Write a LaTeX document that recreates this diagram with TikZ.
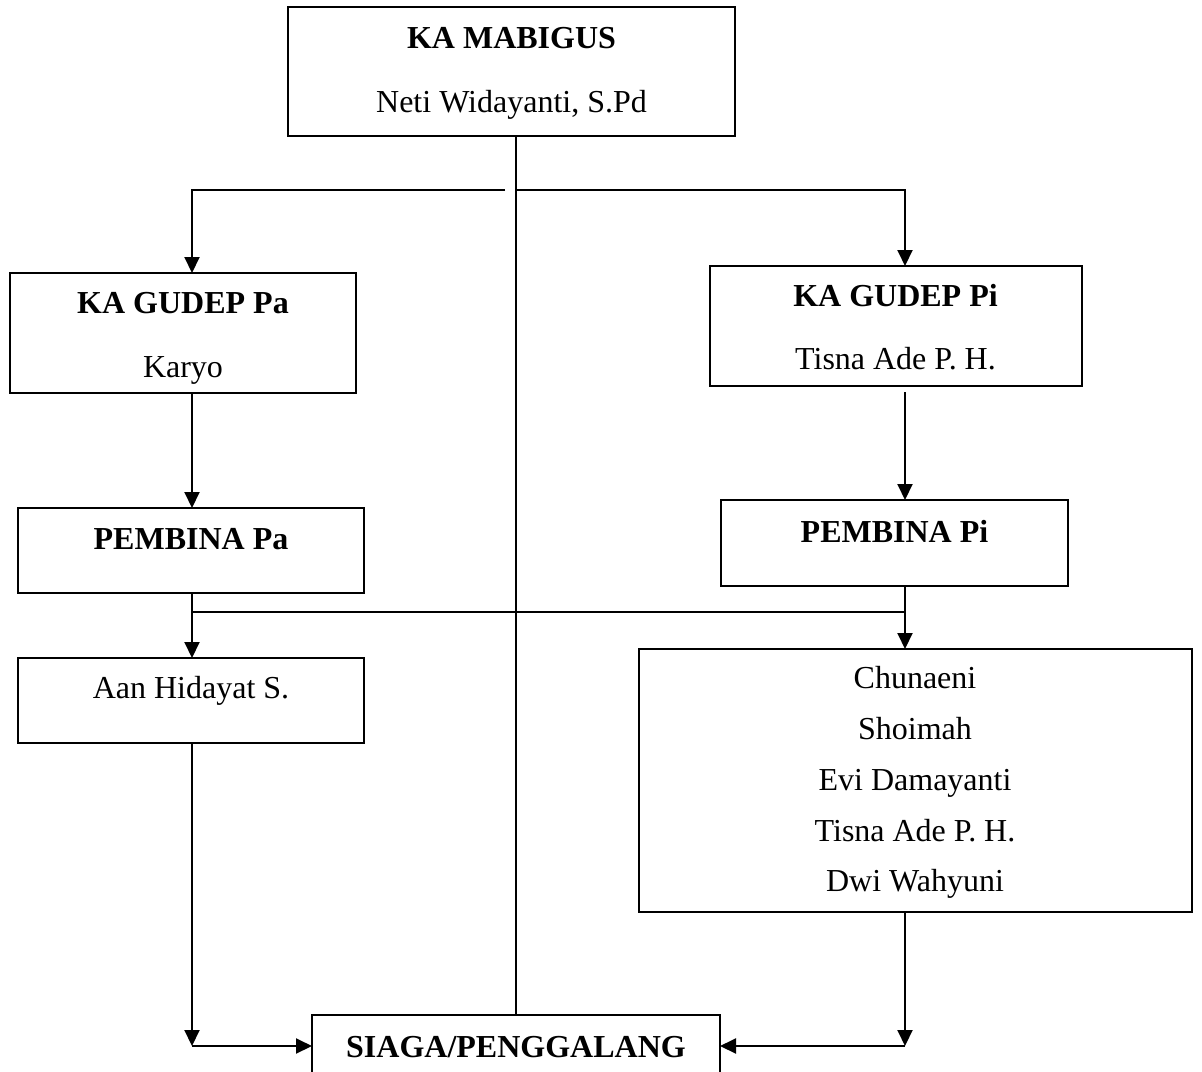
\documentclass[tikz,border=0pt]{standalone}
\usepackage{fontspec}
\setmainfont{Liberation Serif}
\usetikzlibrary{arrows.meta}
\begin{document}
\begin{tikzpicture}[x=1pt,y=-1pt,
  box/.style={draw, line width=2pt, inner sep=0pt, outer sep=0pt, anchor=north west},
  lbl/.style={inner sep=0pt, anchor=base, font=\fontsize{32}{38}\selectfont},
  blbl/.style={lbl, font=\fontsize{32}{38}\selectfont\bfseries},
  conn/.style={line width=2pt},
  arr/.style={conn, -{Triangle[length=16pt,width=15pt]}}]
\useasboundingbox (0,0) rectangle (1202,1071);
\clip (0,0) rectangle (1202,1071);
% boxes
\node[box, minimum width=447pt, minimum height=129pt] (mab) at (288,7) {};
\node[box, minimum width=346pt, minimum height=120pt] (gpa) at (10,273) {};
\node[box, minimum width=346pt, minimum height=85pt] (ppa) at (18,508) {};
\node[box, minimum width=346pt, minimum height=85pt] (aan) at (18,658) {};
\node[box, minimum width=372pt, minimum height=120pt] (gpi) at (710,266) {};
\node[box, minimum width=347pt, minimum height=86pt] (ppi) at (721,500) {};
\node[box, minimum width=553pt, minimum height=263pt] (big) at (639,649) {};
\node[box, minimum width=408pt, minimum height=90pt] (siaga) at (312,1015) {};
% texts
\node[blbl] (t1) at (511.5,48.5) {KA MABIGUS};
\node[lbl] (t2) at (511.5,112) {Neti Widayanti, S.Pd};
\node[blbl] (t3) at (183,313) {KA GUDEP Pa};
\node[lbl] (t4) at (183,377) {Karyo};
\node[blbl] (t5) at (191,549) {PEMBINA Pa};
\node[lbl] (t6) at (191,698) {Aan Hidayat S.};
\node[blbl] (t7) at (895.5,306.5) {KA GUDEP Pi};
\node[lbl] (t8) at (895.5,369.5) {Tisna Ade P. H.};
\node[blbl] (t9) at (894.5,542) {PEMBINA Pi};
\node[lbl] (t10) at (915,688) {Chunaeni};
\node[lbl] (t11) at (915,739) {Shoimah};
\node[lbl] (t12) at (915,790) {Evi Damayanti};
\node[lbl] (t13) at (915,841) {Tisna Ade P. H.};
\node[lbl] (t14) at (915,891) {Dwi Wahyuni};
\node[blbl] (t15) at (516,1057) {SIAGA/PENGGALANG};
% columns and junctions
\coordinate (lc) at (192,0);
\coordinate (rc) at (905,0);
\coordinate (j1) at (505,190);
\coordinate (j2) at (516,190);
\coordinate (hl) at (192,612);
\coordinate (hr) at (905,612);
\coordinate (bl) at (192,1046);
\coordinate (br) at (905,1046);
% connectors
\draw[conn] (mab.south -| siaga.north) -- (siaga.north);
\draw[arr] (j1) -| (gpa.north -| lc);
\draw[arr] (j2) -| (gpi.north -| rc);
\draw[arr] (gpa.south -| lc) -- (ppa.north -| lc);
\draw[arr] ([yshift=-6pt]gpi.south -| rc) -- (ppi.north -| rc);
\draw[arr] (ppa.south -| lc) -- (aan.north -| lc);
\draw[arr] (ppi.south -| rc) -- (big.north -| rc);
\draw[conn] (hl) -- (hr);
\draw[arr] (aan.south -| lc) -- (bl);
\draw[arr] (bl) -- (siaga.west |- bl);
\draw[arr] (big.south -| rc) -- (br);
\draw[arr] (br) -- (siaga.east |- br);
\end{tikzpicture}
\end{document}
